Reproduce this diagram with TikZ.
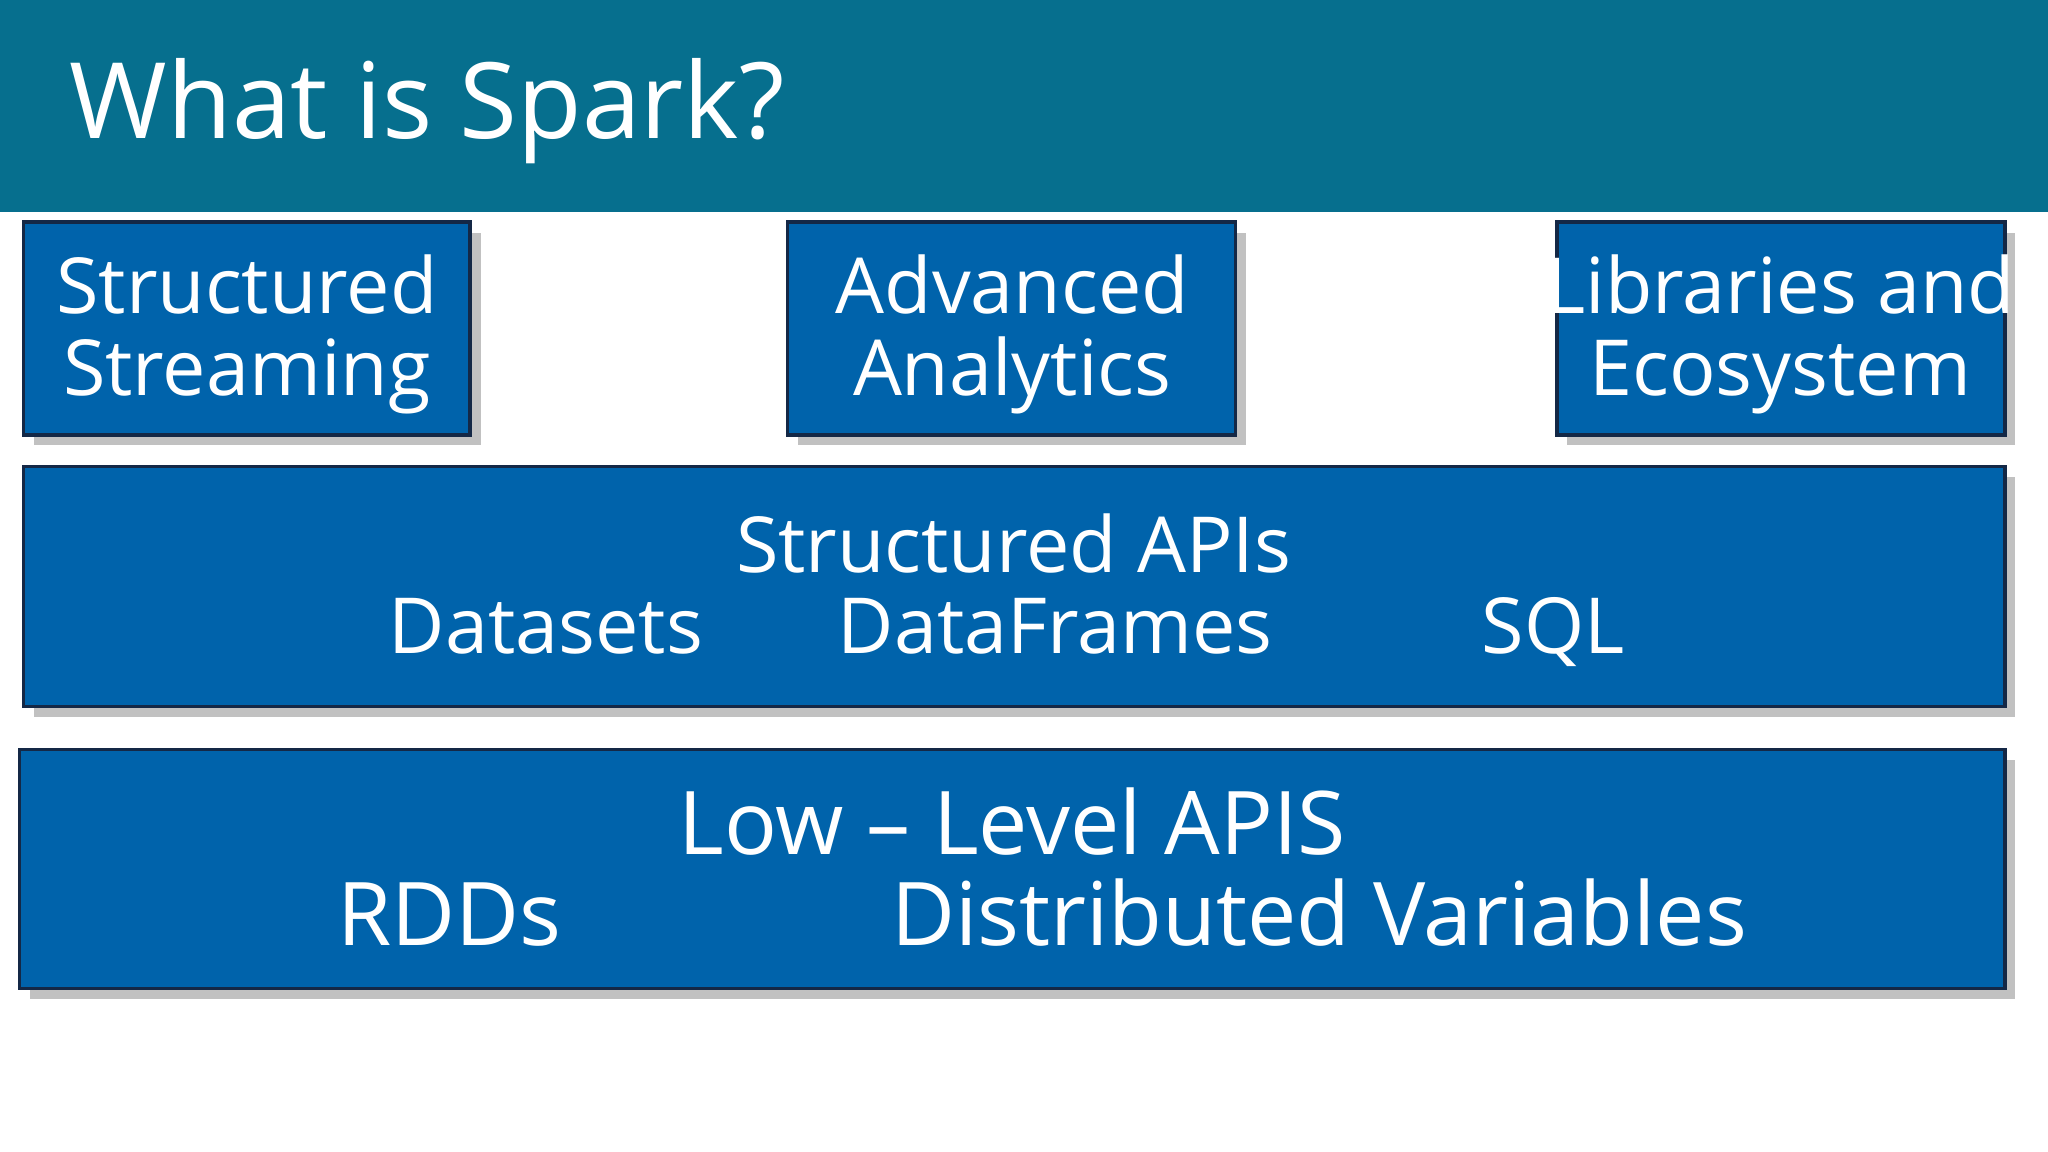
\documentclass[tikz,border=0pt]{standalone}
\usepackage{fontspec}
\setmainfont{Open Sans}
\usetikzlibrary{shadows}
\definecolor{hdr}{RGB}{6,111,142}
\definecolor{bx}{RGB}{0,99,171}
\definecolor{bd}{RGB}{20,40,70}
\begin{document}
\begin{tikzpicture}[x=0.01306cm,y=-0.01306cm,
  box/.style={draw=bd,line width=1pt,fill=bx,drop shadow={shadow xshift=3pt,shadow yshift=-3pt,fill=black!40,opacity=0.6}},
  t/.style={text=white,font=\fontsize{22}{29}\selectfont,align=center,anchor=base},
  tb/.style={text=white,font=\fontsize{25}{30}\selectfont,anchor=base}]
\useasboundingbox (0,0) rectangle (1568,882);
\fill[white] (0,0) rectangle (1568,882);
\fill[hdr] (0,0) rectangle (1568,162);
\node[text=white,font=\fontsize{30}{36}\selectfont,anchor=base west] (title) at (44,106) {What is Spark?};
\draw[box] (18,170) rectangle (360,333);
\draw[box] (603,170) rectangle (946,333);
\draw[box] (1192,170) rectangle (1535,333);
\node[t] (s1) at (189,240) {Structured};
\node[t] (s2) at (189,303) {Streaming};
\node[t] (a1) at (775,240) {Advanced};
\node[t] (a2) at (775,303) {Analytics};
\node[t] (l1) at (1363,240) {Libraries and};
\node[t] (l2) at (1363,303) {Ecosystem};
\draw[box] (18,357) rectangle (1535,541);
\node[t] (sa) at (776,438) {Structured APIs};
\node[t] (ds) at (418,500) {Datasets};
\node[t] (df) at (808,500) {DataFrames};
\node[t] (sq) at (1189,500) {SQL};
\draw[box] (15,574) rectangle (1535,757);
\node[tb] (ll) at (775,654) {Low – Level APIS};
\node[tb] (rd) at (344,724) {RDDs};
\node[tb] (dv) at (1010,724) {Distributed Variables};
\end{tikzpicture}
\end{document}
